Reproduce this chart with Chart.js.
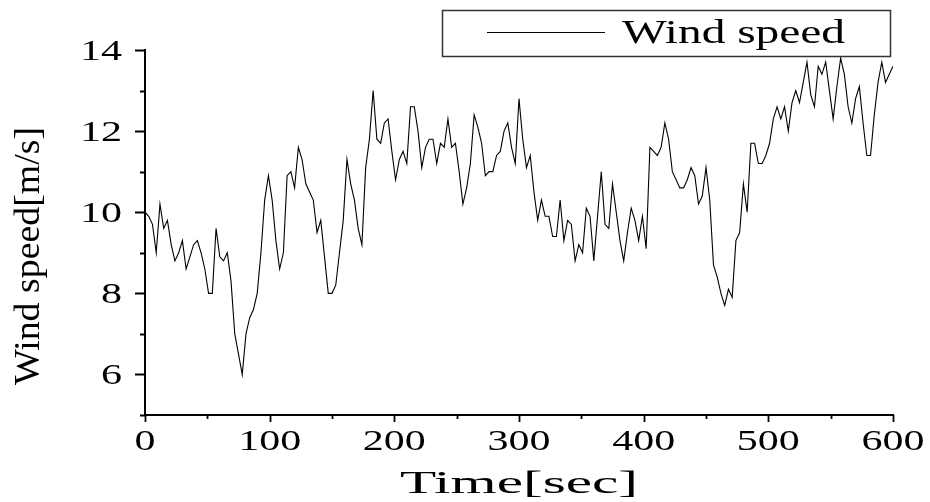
<!DOCTYPE html>
<html>
<head>
<meta charset="utf-8">
<script src="https://cdn.jsdelivr.net/npm/chart.js@4.4.0/dist/chart.umd.min.js"></script>
<style>
  html, body { margin: 0; padding: 0; background: #fff; }
  #wrap { width: 930px; height: 502px; }
</style>
</head>
<body>
<div id="wrap"><canvas id="windChart" width="930" height="502"></canvas></div>
<script>
// time axis in seconds, one sample every 3 s
const timeSec = [
  0, 3, 6, 9, 12, 15, 18, 21, 24, 27, 30, 33, 36, 39, 42, 45, 48, 51, 54, 57,
  60, 63, 66, 69, 72, 75, 78, 81, 84, 87, 90, 93, 96, 99, 102, 105, 108, 111, 114, 117,
  120, 123, 126, 129, 132, 135, 138, 141, 144, 147, 150, 153, 156, 159, 162, 165, 168, 171, 174, 177,
  180, 183, 186, 189, 192, 195, 198, 201, 204, 207, 210, 213, 216, 219, 222, 225, 228, 231, 234, 237,
  240, 243, 246, 249, 252, 255, 258, 261, 264, 267, 270, 273, 276, 279, 282, 285, 288, 291, 294, 297,
  300, 303, 306, 309, 312, 315, 318, 321, 324, 327, 330, 333, 336, 339, 342, 345, 348, 351, 354, 357,
  360, 363, 366, 369, 372, 375, 378, 381, 384, 387, 390, 393, 396, 399, 402, 405, 408, 411, 414, 417,
  420, 423, 426, 429, 432, 435, 438, 441, 444, 447, 450, 453, 456, 459, 462, 465, 468, 471, 474, 477,
  480, 483, 486, 489, 492, 495, 498, 501, 504, 507, 510, 513, 516, 519, 522, 525, 528, 531, 534, 537,
  540, 543, 546, 549, 552, 555, 558, 561, 564, 567, 570, 573, 576, 579, 582, 585, 588, 591, 594, 597,
  600
];

const windSpeed = [
  10.0, 9.9, 9.7, 9.0, 10.2, 9.6, 9.8, 9.2, 8.8, 9.0, 9.3, 8.6, 8.9, 9.2, 9.3, 9.0, 8.6, 8.0, 8.0, 9.6,
  8.9, 8.8, 9.0, 8.3, 7.0, 6.5, 6.0, 7.0, 7.4, 7.6, 8.0, 9.0, 10.3, 10.9, 10.3, 9.3, 8.6, 9.0, 10.9, 11.0,
  10.6, 11.6, 11.3, 10.7, 10.5, 10.3, 9.5, 9.8, 8.9, 8.0, 8.0, 8.2, 9.0, 9.8, 11.3, 10.7, 10.3, 9.6, 9.2, 11.1,
  11.8, 13.0, 11.8, 11.7, 12.2, 12.3, 11.5, 10.8, 11.3, 11.5, 11.2, 12.6, 12.6, 12.0, 11.1, 11.6, 11.8, 11.8, 11.2, 11.7,
  11.6, 12.3, 11.6, 11.7, 11.0, 10.2, 10.6, 11.2, 12.4, 12.1, 11.7, 10.9, 11.0, 11.0, 11.4, 11.5, 12.0, 12.2, 11.6, 11.2,
  12.8, 11.8, 11.1, 11.4, 10.5, 9.8, 10.3, 9.9, 9.9, 9.4, 9.4, 10.3, 9.3, 9.8, 9.7, 8.8, 9.2, 9.0, 10.1, 9.9,
  8.8, 9.9, 11.0, 9.7, 9.6, 10.7, 10.0, 9.3, 8.8, 9.5, 10.1, 9.8, 9.3, 9.9, 9.1, 11.6, 11.5, 11.4, 11.6, 12.2,
  11.8, 11.0, 10.8, 10.6, 10.6, 10.8, 11.1, 10.9, 10.2, 10.4, 11.1, 10.3, 8.7, 8.4, 8.0, 7.7, 8.1, 7.9, 9.3, 9.5,
  10.7, 10.0, 11.7, 11.7, 11.2, 11.2, 11.4, 11.7, 12.3, 12.6, 12.3, 12.6, 12.0, 12.7, 13.0, 12.7, 13.2, 13.7, 12.9, 12.6,
  13.6, 13.4, 13.7, 13.0, 12.3, 13.1, 13.8, 13.4, 12.6, 12.2, 12.8, 13.1, 12.2, 11.4, 11.4, 12.4, 13.2, 13.7, 13.2, 13.4,
  13.6
];

const xMajor = [0, 100, 200, 300, 400, 500, 600];
const xMinor = [50, 150, 250, 350, 450, 550];
const yMajor = [6, 8, 10, 12, 14];
const yMinor = [5, 7, 9, 11, 13];

const seriesName = "Wind speed";
const xTitle = "Time[sec]";
const yTitle = "Wind speed[m/s]";

const SERIF = "'Liberation Serif', 'Times New Roman', serif";

// draw text squeezed/stretched along its own direction
function wideText(ctx, text, x, y, size, sx, align, angle) {
  ctx.save();
  ctx.font = size + "px " + SERIF;
  ctx.fillStyle = "#000";
  ctx.translate(x, y);
  if (angle) ctx.rotate(angle);
  ctx.scale(sx, 1);
  ctx.textAlign = align;
  ctx.textBaseline = "alphabetic";
  ctx.fillText(text, 0, 0);
  ctx.restore();
}

function fitScale(ctx, text, size, width) {
  ctx.save();
  ctx.font = size + "px " + SERIF;
  const w = ctx.measureText(text).width;
  ctx.restore();
  return width / w;
}

const originLook = {
  id: "originLook",
  afterDraw(chart) {
    const ctx = chart.ctx;
    const xs = chart.scales.x;
    const ys = chart.scales.y;
    const area = chart.chartArea;

    // tick marks
    ctx.save();
    ctx.strokeStyle = "#000";
    ctx.lineWidth = 1.8;
    ctx.beginPath();
    yMajor.forEach(v => {
      const p = Math.round(ys.getPixelForValue(v)) + 0.5;
      ctx.moveTo(area.left, p); ctx.lineTo(area.left - 10, p);
    });
    yMinor.forEach(v => {
      const p = Math.round(ys.getPixelForValue(v)) + 0.5;
      ctx.moveTo(area.left, p); ctx.lineTo(area.left - 5, p);
    });
    xMajor.forEach(v => {
      const p = Math.round(xs.getPixelForValue(v)) + 0.5;
      ctx.moveTo(p, area.bottom); ctx.lineTo(p, area.bottom + 7);
    });
    xMinor.forEach(v => {
      const p = Math.round(xs.getPixelForValue(v)) + 0.5;
      ctx.moveTo(p, area.bottom); ctx.lineTo(p, area.bottom + 4);
    });
    ctx.stroke();
    ctx.restore();

    // tick labels
    yMajor.forEach(v => {
      wideText(ctx, String(v), area.left - 23, ys.getPixelForValue(v) + 10, 29, 1.45, "right");
    });
    xMajor.forEach(v => {
      wideText(ctx, String(v), xs.getPixelForValue(v), area.bottom + 35, 30, 1.4, "center");
    });

    // axis titles
    const tx = fitScale(ctx, xTitle, 31, 238);
    wideText(ctx, xTitle, (area.left + area.right) / 2, 493, 31, tx, "center");
    const ty = fitScale(ctx, yTitle, 36, 258);
    wideText(ctx, yTitle, 39, 256, 36, ty, "center", -Math.PI / 2);

    // legend box
    ctx.save();
    ctx.fillStyle = "#fff";
    ctx.fillRect(442, 10, 449, 47);
    ctx.strokeStyle = "#333";
    ctx.lineWidth = 1.5;
    ctx.strokeRect(442.5, 10.5, 448, 46);
    ctx.strokeStyle = "#000";
    ctx.lineWidth = 1;
    ctx.beginPath();
    ctx.moveTo(487, 32.5); ctx.lineTo(605, 32.5);
    ctx.stroke();
    ctx.restore();
    const tl = fitScale(ctx, seriesName, 33, 223);
    wideText(ctx, seriesName, 622, 43, 33, tl, "left");
  }
};

new Chart(document.getElementById("windChart"), {
  type: "line",
  data: {
    datasets: [{
      label: seriesName,
      data: timeSec.map((t, i) => ({ x: t, y: windSpeed[i] })),
      borderColor: "#000",
      borderWidth: 1.1,
      pointRadius: 0,
      tension: 0,
      fill: false
    }]
  },
  options: {
    responsive: false,
    animation: false,
    devicePixelRatio: 1,
    layout: { padding: { left: 145, right: 37, top: 50, bottom: 87 } },
    plugins: { legend: { display: false }, tooltip: { enabled: false } },
    scales: {
      x: {
        type: "linear", min: 0, max: 600,
        ticks: { display: false },
        grid: { display: true, drawOnChartArea: false, drawTicks: false },
        border: { display: true, color: "#000", width: 2 },
        afterFit: s => { s.height = 0; }
      },
      y: {
        type: "linear", min: 5, max: 14,
        ticks: { display: false },
        grid: { display: true, drawOnChartArea: false, drawTicks: false },
        border: { display: true, color: "#000", width: 2 },
        afterFit: s => { s.width = 0; }
      }
    }
  },
  plugins: [originLook]
});
</script>
</body>
</html>
